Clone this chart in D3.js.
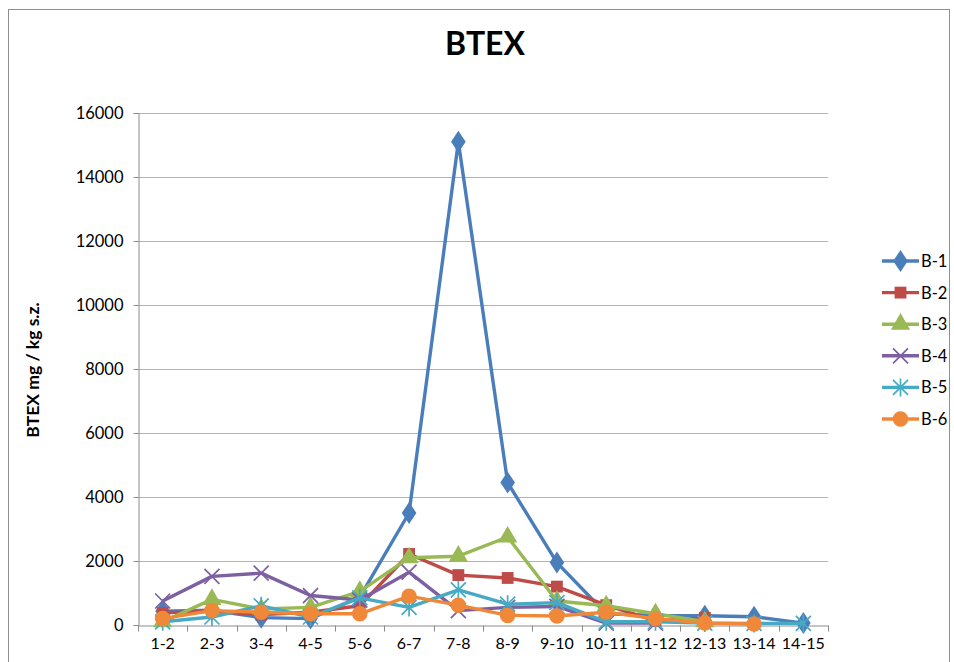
<!DOCTYPE html>
<meta charset="utf-8">
<head>
<style>
  body { margin: 0; background: #fff; }
  svg text { font-family: Lato, "Open Sans", sans-serif; fill: #000; }
  .grid line { stroke: #b3b3b3; stroke-width: 1; }
  .axis path, .axis line { stroke: #8c8c8c; }
</style>
</head>
<body>
<div class="chart"></div>
<script src="https://cdnjs.cloudflare.com/ajax/libs/d3/7.8.5/d3.min.js"></script>
<script>
const depths = ['1-2', '2-3', '3-4', '4-5', '5-6', '6-7', '7-8', '8-9', '9-10', '10-11', '11-12', '12-13', '13-14', '14-15'];
const yTicks = [0, 2000, 4000, 6000, 8000, 10000, 12000, 14000, 16000];

const b1 = [430, 460, 230, 200, 870, 3500, 15100, 4450, 1950, 350, 300, 290, 260, 60];
const b2 = [380, 430, 330, 400, 600, 2220, 1560, 1470, 1200, 620, 130, 220, null, null];
const b3 = [100, 800, 500, 550, 1050, 2100, 2150, 2750, 750, 600, 350, 100, null, null];
const b4 = [750, 1520, 1620, 920, 780, 1650, 450, 550, 580, 60, 60, null, null, null];
const b5 = [100, 250, 600, 250, 850, 550, 1100, 650, 700, 100, 100, 60, 50, 50];
const b6 = [200, 450, 400, 350, 350, 900, 620, 300, 280, 400, 200, 60, 30, null];

const seriesNames = ['B-1', 'B-2', 'B-3', 'B-4', 'B-5', 'B-6'];
const seriesValues = [b1, b2, b3, b4, b5, b6];
const colors = ['#4A7EBB', '#BE4B48', '#98B954', '#7D60A0', '#46AAC5', '#F0883A'];
const symbols = [d3.symbolDiamond, d3.symbolSquare, d3.symbolTriangle, 'x', 'star', d3.symbolCircle];

const W = 954, H = 662;
const plot = { left: 138, right: 828, top: 113, bottom: 625 };

const svg = d3.select('.chart').append('svg')
  .attr('width', W)
  .attr('height', H);

// outer chart frame
svg.append('rect')
  .attr('x', 8.5).attr('y', 9.5)
  .attr('width', 941).attr('height', 700)
  .attr('fill', 'none')
  .attr('stroke', '#8f8f8f');

const x = d3.scaleBand().domain(depths).range([plot.left, plot.right]);
const y = d3.scaleLinear().domain([0, 16000]).range([plot.bottom, plot.top]);

// gridlines
svg.append('g').attr('class', 'grid')
  .selectAll('line').data(yTicks.filter(d => d > 0))
  .enter().append('line')
  .attr('x1', plot.left).attr('x2', plot.right)
  .attr('y1', d => Math.round(y(d)) + 0.5).attr('y2', d => Math.round(y(d)) + 0.5);

// y axis
const yAxis = svg.append('g').attr('class', 'axis')
  .attr('transform', `translate(${plot.left + 0.5},0)`)
  .call(d3.axisLeft(y).tickValues(yTicks).tickFormat(d3.format('d')).tickSize(5).tickPadding(10));
yAxis.selectAll('text').style('font-size', '16.5px').attr('fill', '#000');

// x axis, ticks between categories
const xAxis = svg.append('g').attr('class', 'axis')
  .attr('transform', `translate(0,${plot.bottom + 0.5})`)
  .call(d3.axisBottom(x).tickSize(0).tickPadding(12));
xAxis.selectAll('text').style('font-size', '16px').attr('fill', '#000');
xAxis.selectAll('.sep').data(depths.map(d => x(d)).concat([plot.right]))
  .enter().append('line').attr('class', 'sep')
  .attr('x1', d => Math.round(d) + 0.5).attr('x2', d => Math.round(d) + 0.5)
  .attr('y1', 0).attr('y2', 6)
  .attr('stroke', '#8c8c8c');

// title and y label
svg.append('text')
  .attr('x', 485).attr('y', 55)
  .attr('text-anchor', 'middle')
  .style('font-size', '32px').style('font-weight', 'bold')
  .text('BTEX');

svg.append('text')
  .attr('transform', 'translate(39,370) rotate(-90)')
  .attr('text-anchor', 'middle')
  .style('font-size', '17.5px').style('font-weight', 'bold')
  .text('BTEX mg / kg s.z.');

function marker(g, i, color) {
  const s = symbols[i];
  if (s === 'x') {
    g.append('path').attr('d', 'M-7.5,-7.5L7.5,7.5M-7.5,7.5L7.5,-7.5')
      .attr('stroke', color).attr('stroke-width', 1.7).attr('fill', 'none');
  } else if (s === 'star') {
    g.append('path').attr('d', 'M-7.5,-7.5L7.5,7.5M-7.5,7.5L7.5,-7.5M0,-9L0,9')
      .attr('stroke', color).attr('stroke-width', 1.7).attr('fill', 'none');
  } else {
    const size = s === d3.symbolCircle ? 190 : (s === d3.symbolTriangle ? 160 : 140);
    g.append('path').attr('d', d3.symbol().type(s).size(size)())
      .attr('fill', color)
      .attr('transform', s === d3.symbolDiamond ? 'scale(1.15,1)' : null);
  }
}

const line = d3.line()
  .defined(d => d.v != null)
  .x(d => x(d.k) + x.bandwidth() / 2)
  .y(d => y(d.v));

seriesValues.forEach((vals, i) => {
  const pts = depths.map((k, j) => ({ k: k, v: vals[j] }));
  const g = svg.append('g');
  g.append('path').datum(pts)
    .attr('d', line)
    .attr('fill', 'none')
    .attr('stroke', colors[i])
    .attr('stroke-width', 3.4)
    .attr('stroke-linejoin', 'round');
  pts.filter(d => d.v != null).forEach(d => {
    const m = g.append('g').attr('transform', `translate(${x(d.k) + x.bandwidth() / 2},${y(d.v)})`);
    marker(m, i, colors[i]);
  });
});

// legend
const legend = svg.append('g').attr('transform', 'translate(882,261)');
seriesNames.forEach((name, i) => {
  const row = legend.append('g').attr('transform', `translate(0,${i * 31.6})`);
  row.append('line').attr('x1', 0).attr('x2', 37).attr('y1', 0).attr('y2', 0)
    .attr('stroke', colors[i]).attr('stroke-width', 3.4);
  const m = row.append('g').attr('transform', 'translate(18.5,0)');
  marker(m, i, colors[i]);
  row.append('text').attr('x', 39).attr('y', 0).attr('dy', '0.36em')
    .style('font-size', '16.5px').text(name);
});
</script>
</body>
